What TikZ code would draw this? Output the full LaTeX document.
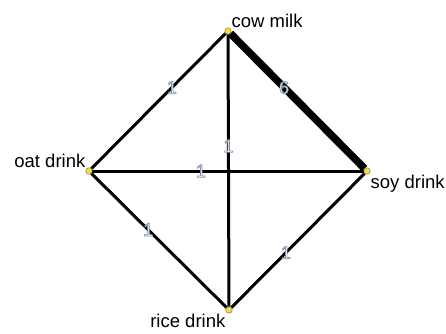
\documentclass[tikz,border=0pt]{standalone}
\usepackage{fontspec}
\setmainfont{Liberation Sans}
\usepackage{tikz}
\usetikzlibrary{backgrounds}

% outlined edge weights (white fill, grey rim)
\newcommand{\wnum}[1]{\special{pdf:code 2 Tr 0.7 w 0.5 0.56 0.66 RG}#1\special{pdf:code 0 Tr}}

\begin{document}
\begin{tikzpicture}[
  x=1pt, y=-1pt,
  vert/.style={circle, draw=black!60, fill=yellow!70!orange!80, line width=0.4pt, inner sep=0pt, minimum size=6.5pt},
  vlabel/.style={font=\fontsize{18.5}{21}\selectfont, inner sep=1pt},
  link/.style={line width=3pt},
  heavy/.style={line width=7.5pt},
  weight/.style={font=\fontsize{18}{20}\selectfont, text=white, inner sep=0pt, pos=0.4}
]
\useasboundingbox (0,0) rectangle (446,333);

% Vertices
\node[vert, label={[vlabel, anchor=south west]north east:cow milk}] (cow) at (228,31) {};
\node[vert, label={[vlabel, anchor=south east]north west:oat drink}] (oat) at (89,171) {};
\node[vert, label={[vlabel, anchor=north west]south east:soy drink}] (soy) at (367,171) {};
\node[vert, label={[vlabel, anchor=north east]south west:rice drink}] (rice) at (229,310) {};

% Edges
\begin{scope}[on background layer]
\draw[link] (cow) -- node[weight] {\wnum{1}} (oat);
\draw[heavy] (cow) -- node[weight] {\wnum{6}} (soy);
\draw[link] (cow) -- node[weight, pos=0.41] {\wnum{1}} (rice);
\draw[link] (oat) -- node[weight] {\wnum{1}} (soy);
\draw[link] (oat) -- node[weight, pos=0.42] {\wnum{1}} (rice);
\draw[link] (rice) -- node[weight, pos=0.41] {\wnum{1}} (soy);
\end{scope}

\end{tikzpicture}
\end{document}
